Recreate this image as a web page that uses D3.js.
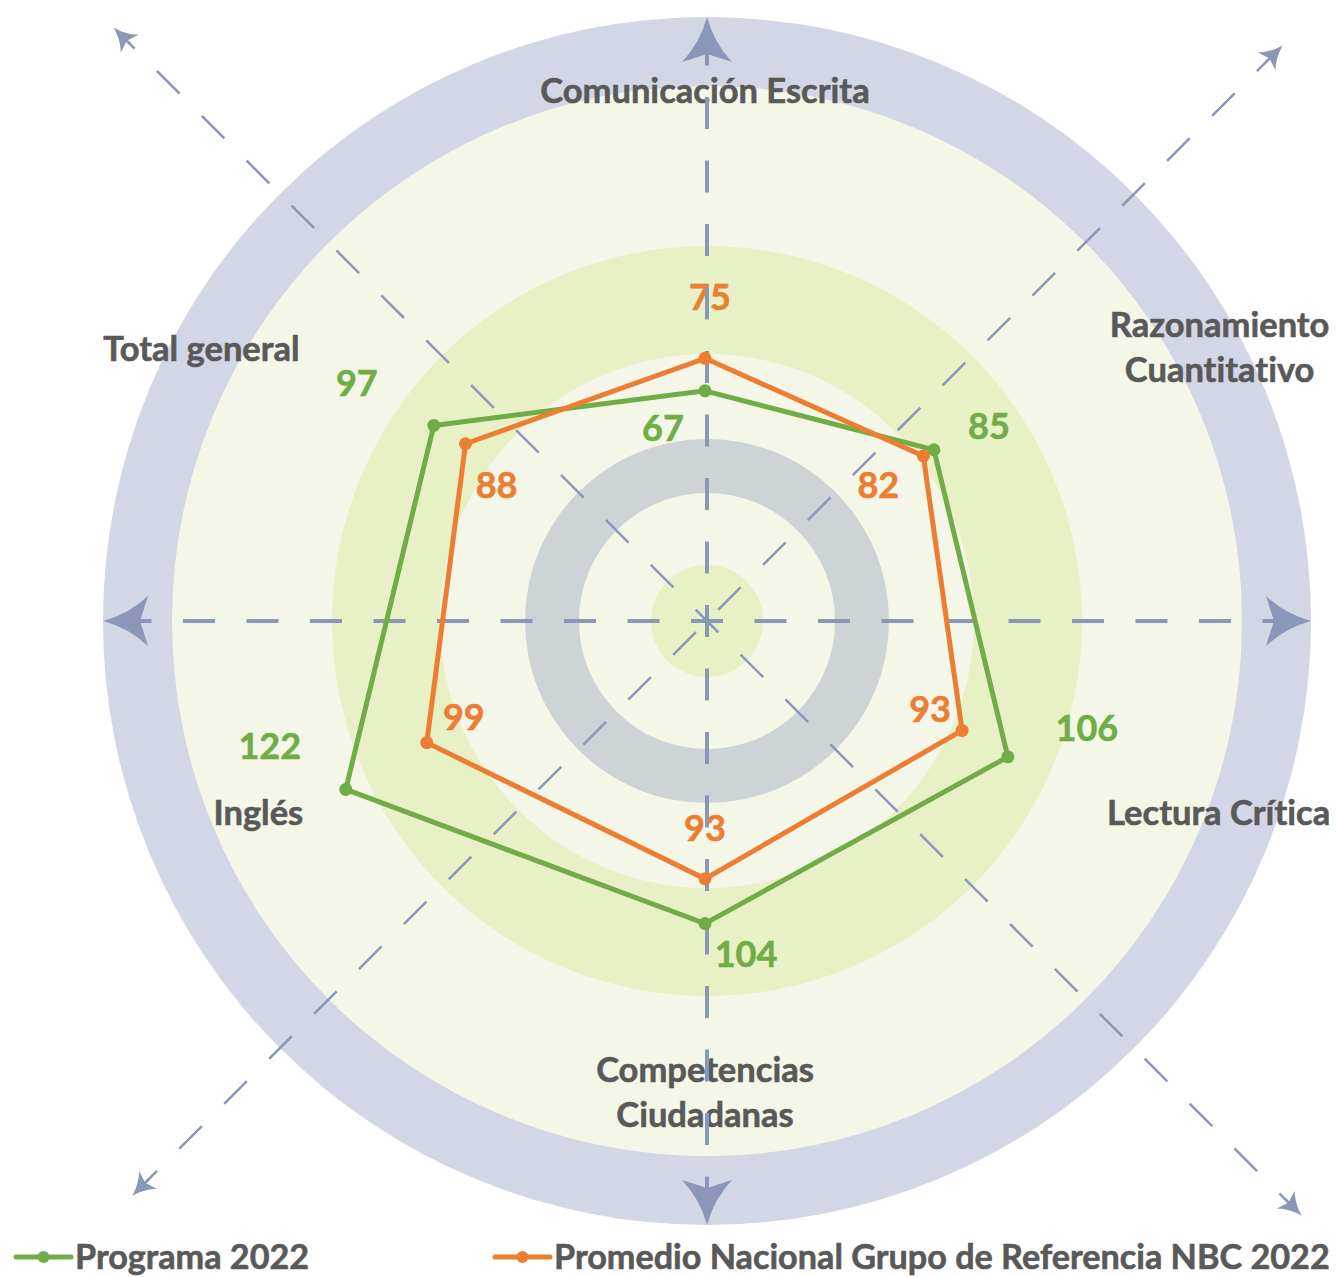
<!DOCTYPE html>
<html><head><meta charset="utf-8">
<script src="https://cdn.jsdelivr.net/npm/d3@7"></script>
<style>
html,body{margin:0;padding:0;background:#fff;}
svg{display:block;}
text{font-family:Lato,"Open Sans",sans-serif;font-weight:700;font-variant-ligatures:none;font-feature-settings:"liga" 0;}
</style></head>
<body>
<svg id="chart" width="1336" height="1277"></svg>
<script>
// ---------------- data ----------------
const categories = ["Comunicación Escrita", "Razonamiento Cuantitativo", "Lectura Crítica", "Competencias Ciudadanas", "Inglés", "Total general"];
const categoryLines = [["Comunicación Escrita"], ["Razonamiento", "Cuantitativo"], ["Lectura Crítica"], ["Competencias", "Ciudadanas"], ["Inglés"], ["Total general"]];
const programa2022 = [67, 85, 106, 104, 122, 97];
const promedioNBC2022 = [75, 82, 93, 93, 99, 88];
const seriesNames = ["Programa 2022", "Promedio Nacional Grupo de Referencia NBC 2022"];
const radialDomain = [20, 140];

// ---------------- layout / style ----------------
const W = 1336, H = 1277;
const decoC = {x: 707, y: 621};
const radarC = {x: 705, y: 582};
const radarR = 488;
const colors = {green: "#70ad47", orange: "#ed7d31", text: "#595959", arrow: "#8b97b9",
  ring: "#d3d6e5", pale: "#f4f7e8", band: "#e8f0c6", gray: "#ced4d6"};
// category label offsets from the axis end point: [dx to centre, dy of first baseline]
const catLabelOffset = [[0, 9], [92, -1], [91, -1], [0, 12], [-24, -1], [-81, 23]];
const catLineGap = 45;
// data label offsets from the point: [dx to centre, dy to baseline]
const greenLabelOffset = [[-42, 50], [55, -11], [79, -16], [41, 43], [-76, -30], [-77, -29]];
const orangeLabelOffset = [[5, -48], [-45, 42], [-32, -8], [0, -38], [37, -13], [31, 54]];

const svg = d3.select("#chart");
const r = d3.scaleLinear().domain(radialDomain).range([0, radarR]);
const ang = d3.scaleLinear().domain([0, categories.length]).range([0, 2 * Math.PI]);
const pt = (i, v) => [radarC.x + r(v) * Math.sin(ang(i)), radarC.y - r(v) * Math.cos(ang(i))];

// ---------------- decorative rings ----------------
const deco = svg.append("g").attr("transform", `translate(${decoC.x},${decoC.y})`);
[[604, colors.ring], [535, colors.pale], [375, colors.band], [267, colors.pale], [182, colors.gray], [128, colors.pale], [56, colors.band]]
  .forEach(([rad, fill]) => deco.append("circle").attr("r", rad).attr("fill", fill));

// ---------------- category labels ----------------
const catG = svg.append("g");
categories.forEach((c, i) => {
  const [ex, ey] = pt(i, radialDomain[1]);
  const t = catG.append("text").attr("text-anchor", "middle").attr("fill", colors.text)
    .attr("stroke", colors.text).attr("stroke-width", 0.6)
    .attr("font-size", 34.5);
  categoryLines[i].forEach((ln, j) => {
    t.append("tspan").attr("x", ex + catLabelOffset[i][0]).attr("y", ey + catLabelOffset[i][1] + j * catLineGap).text(ln);
  });
});

// ---------------- data labels ----------------
const lblG = svg.append("g");
function dataLabels(vals, offs, col) {
  vals.forEach((v, i) => {
    const [x, y] = pt(i, v);
    lblG.append("text").attr("x", x + offs[i][0]).attr("y", y + offs[i][1])
      .attr("text-anchor", "middle").attr("font-size", 36).attr("fill", col)
      .attr("stroke", col).attr("stroke-width", 0.6).text(v);
  });
}
dataLabels(programa2022, greenLabelOffset, colors.green);
dataLabels(promedioNBC2022, orangeLabelOffset, colors.orange);

// ---------------- dashed axes and arrows ----------------
const axG = svg.append("g").attr("transform", `translate(${decoC.x},${decoC.y})`);
// [angle in degrees (0 = right, counter-clockwise), length to tip, stroke width, dashoffset, arrow size]
const axesSpec = [
  [0, 604, 4, 16, 1], [180, 604, 4, 16, 1], [90, 604, 4, 16, 1], [270, 604, 4, 16, 1],
  [135, 839, 2.5, 16, 0.5], [315, 841, 2.5, 16, 0.5],
  [45, 814, 2.5, 47.75, 0.5], [225, 813, 2.5, 47.75, 0.5]
];
axesSpec.forEach(([deg, len, sw, off, s]) => {
  const a = deg * Math.PI / 180;
  const ux = Math.cos(a), uy = -Math.sin(a);
  const stop = len - 40 * s;
  axG.append("line").attr("x1", 0).attr("y1", 0).attr("x2", ux * stop).attr("y2", uy * stop)
    .attr("stroke", colors.arrow).attr("stroke-width", sw)
    .attr("stroke-dasharray", "32 31.5").attr("stroke-dashoffset", off);
  axG.append("line").attr("x1", ux * (len - 48 * s)).attr("y1", uy * (len - 48 * s))
    .attr("x2", ux * (len - 20 * s)).attr("y2", uy * (len - 20 * s))
    .attr("stroke", colors.arrow).attr("stroke-width", sw);
  axG.append("path")
    .attr("d", "M0,0 Q-26,-7 -45,-25 L-37,0 L-45,25 Q-26,7 0,0 Z")
    .attr("fill", colors.arrow)
    .attr("transform", `translate(${ux * len},${uy * len}) rotate(${-deg}) scale(${s})`);
});

// ---------------- radar series ----------------
const radarG = svg.append("g").attr("transform", `translate(${radarC.x},${radarC.y})`);
const lineR = d3.lineRadial().angle((d, i) => ang(i)).radius(d => r(d)).curve(d3.curveLinearClosed);
[[programa2022, colors.green], [promedioNBC2022, colors.orange]].forEach(([vals, col]) => {
  radarG.append("path").attr("d", lineR(vals)).attr("fill", "none")
    .attr("stroke", col).attr("stroke-width", 5).attr("stroke-linejoin", "miter");
  radarG.selectAll(null).data(vals).enter().append("circle")
    .attr("cx", (d, i) => r(d) * Math.sin(ang(i)))
    .attr("cy", (d, i) => -r(d) * Math.cos(ang(i)))
    .attr("r", 6.5).attr("fill", col);
});

// ---------------- legend ----------------
const legend = svg.append("g");
const legendItems = [
  {name: seriesNames[0], col: colors.green, x: 16},
  {name: seriesNames[1], col: colors.orange, x: 495}
];
legendItems.forEach(it => {
  const g = legend.append("g").attr("transform", `translate(${it.x},1257)`);
  g.append("line").attr("x1", 0).attr("x2", 55).attr("stroke", it.col).attr("stroke-width", 5).attr("stroke-linecap", "round");
  g.append("circle").attr("cx", 27.5).attr("r", 6).attr("fill", it.col);
  g.append("text").attr("x", 59).attr("y", 12).attr("font-size", 34.2).attr("fill", colors.text)
    .attr("stroke", colors.text).attr("stroke-width", 0.6).text(it.name);
});
</script>
</body></html>
